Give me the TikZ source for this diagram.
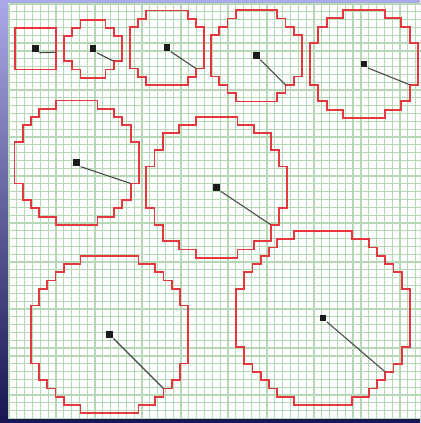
\documentclass[tikz,border=0pt]{standalone}

\tikzset{every picture/.style={line width=0.75pt}}
\tikzset{
pixel circle/.style={draw={rgb, 255:red, 228; green, 56; blue, 62 }, line width=1.35pt, line join=miter},
center dot/.style={fill={rgb, 255:red, 28; green, 28; blue, 28 }, inner sep=0pt, minimum size=5.2pt},
radius line/.style={draw={rgb, 255:red, 72; green, 72; blue, 72 }, line width=0.8pt},
grid line/.style={draw={rgb, 255:red, 182; green, 216; blue, 182 }, line width=0.9pt}}

\begin{document}
\begin{tikzpicture}[x=0.75pt,y=0.75pt,yscale=-1,xscale=1]
\useasboundingbox (0,0) rectangle (420,423);

%Shape: Rectangle [frame]
\fill [top color={rgb, 255:red, 170; green, 170; blue, 232 }, bottom color={rgb, 255:red, 22; green, 22; blue, 82 }] (0,0) rectangle (420,423);
%Shape: Rectangle [panel]
\fill [white] (8,3) rectangle (420,419);
%Shape: Grid
\draw [grid line, shift={(9,4)}, step=7.82] (0,0) grid (411.5,415);

%Shape: Pixel circle r=2
\begin{scope}[shift={(35.5,48.8)}, scale=8.3]
\draw [pixel circle] (-2.5,-2.5) -- (2.5,-2.5) -- (2.5,2.5) -- (-2.5,2.5) -- cycle;
\node [center dot] (c1) at (0,0) {};
\coordinate (e1) at (2.5,0.42);
\draw [radius line] (c1.south east) -- (e1);
\end{scope}

%Shape: Pixel circle r=3
\begin{scope}[shift={(93,48.8)}, scale=8.3]
\draw [pixel circle] (-1.5,-3.5) -- (1.5,-3.5) -- (1.5,-2.5) -- (2.5,-2.5) -- (2.5,-1.5) -- (3.5,-1.5) -- (3.5,1.5) -- (2.5,1.5) -- (2.5,2.5) -- (1.5,2.5) -- (1.5,3.5) -- (-1.5,3.5) -- (-1.5,2.5) -- (-2.5,2.5) -- (-2.5,1.5) -- (-3.5,1.5) -- (-3.5,-1.5) -- (-2.5,-1.5) -- (-2.5,-2.5) -- (-1.5,-2.5) -- cycle;
\node [center dot] (c2) at (0,0) {};
\coordinate (e2) at (2.5,1.5);
\draw [radius line] (c2.south east) -- (e2);
\end{scope}

%Shape: Pixel circle r=4
\begin{scope}[shift={(167,47.8)}, scale=8.3]
\draw [pixel circle] (2.5,-4.5) -- (2.5,-3.5) -- (3.5,-3.5) -- (3.5,-2.5) -- (4.5,-2.5) -- (4.5,2.5) -- (3.5,2.5) -- (3.5,3.5) -- (2.5,3.5) -- (2.5,4.5) -- (-2.5,4.5) -- (-2.5,3.5) -- (-3.5,3.5) -- (-3.5,2.5) -- (-4.5,2.5) -- (-4.5,-2.5) -- (-3.5,-2.5) -- (-3.5,-3.5) -- (-2.5,-3.5) -- (-2.5,-4.5) -- cycle;
\node [center dot] (c3) at (0,0) {};
\coordinate (e3) at (3.5,2.5);
\draw [radius line] (c3.south east) -- (e3);
\end{scope}

%Shape: Pixel circle r=5
\begin{scope}[shift={(256.5,55.8)}, scale=8.3]
\draw [pixel circle] (2.5,-5.5) -- (2.5,-4.5) -- (3.5,-4.5) -- (3.5,-3.5) -- (4.5,-3.5) -- (4.5,-2.5) -- (5.5,-2.5) -- (5.5,2.5) -- (4.5,2.5) -- (4.5,3.5) -- (3.5,3.5) -- (3.5,4.5) -- (2.5,4.5) -- (2.5,5.5) -- (-2.5,5.5) -- (-2.5,4.5) -- (-3.5,4.5) -- (-3.5,3.5) -- (-4.5,3.5) -- (-4.5,2.5) -- (-5.5,2.5) -- (-5.5,-2.5) -- (-4.5,-2.5) -- (-4.5,-3.5) -- (-3.5,-3.5) -- (-3.5,-4.5) -- (-2.5,-4.5) -- (-2.5,-5.5) -- cycle;
\node [center dot] (c4) at (0,0) {};
\coordinate (e4) at (3.5,3.5);
\draw [radius line] (c4.south east) -- (e4);
\end{scope}

%Shape: Pixel circle r=6
\begin{scope}[shift={(364,64)}, scale=8.3]
\draw [pixel circle] (2.5,-6.5) -- (2.5,-5.5) -- (4.5,-5.5) -- (4.5,-4.5) -- (5.5,-4.5) -- (5.5,-2.5) -- (6.5,-2.5) -- (6.5,2.5) -- (5.5,2.5) -- (5.5,4.5) -- (4.5,4.5) -- (4.5,5.5) -- (2.5,5.5) -- (2.5,6.5) -- (-2.5,6.5) -- (-2.5,5.5) -- (-4.5,5.5) -- (-4.5,4.5) -- (-5.5,4.5) -- (-5.5,2.5) -- (-6.5,2.5) -- (-6.5,-2.5) -- (-5.5,-2.5) -- (-5.5,-4.5) -- (-4.5,-4.5) -- (-4.5,-5.5) -- (-2.5,-5.5) -- (-2.5,-6.5) -- cycle;
\node [center dot] (c5) at (0,0) {};
\coordinate (e5) at (5.5,2.5);
\draw [radius line] (c5.south east) -- (e5);
\end{scope}

%Shape: Pixel circle r=7
\begin{scope}[shift={(76.7,162.7)}, scale=8.3]
\draw [pixel circle] (2.5,-7.5) -- (2.5,-6.5) -- (4.5,-6.5) -- (4.5,-5.5) -- (5.5,-5.5) -- (5.5,-4.5) -- (6.5,-4.5) -- (6.5,-2.5) -- (7.5,-2.5) -- (7.5,2.5) -- (6.5,2.5) -- (6.5,4.5) -- (5.5,4.5) -- (5.5,5.5) -- (4.5,5.5) -- (4.5,6.5) -- (2.5,6.5) -- (2.5,7.5) -- (-2.5,7.5) -- (-2.5,6.5) -- (-4.5,6.5) -- (-4.5,5.5) -- (-5.5,5.5) -- (-5.5,4.5) -- (-6.5,4.5) -- (-6.5,2.5) -- (-7.5,2.5) -- (-7.5,-2.5) -- (-6.5,-2.5) -- (-6.5,-4.5) -- (-5.5,-4.5) -- (-5.5,-5.5) -- (-4.5,-5.5) -- (-4.5,-6.5) -- (-2.5,-6.5) -- (-2.5,-7.5) -- cycle;
\node [center dot] (c6) at (0,0) {};
\coordinate (e6) at (6.5,2.5);
\draw [radius line] (c6.south east) -- (e6);
\end{scope}

%Shape: Pixel circle r=8
\begin{scope}[shift={(216.7,187.3)}, scale=8.3]
\draw [pixel circle] (2.5,-8.5) -- (2.5,-7.5) -- (4.5,-7.5) -- (4.5,-6.5) -- (6.5,-6.5) -- (6.5,-4.5) -- (7.5,-4.5) -- (7.5,-2.5) -- (8.5,-2.5) -- (8.5,2.5) -- (7.5,2.5) -- (7.5,4.5) -- (6.5,4.5) -- (6.5,6.5) -- (4.5,6.5) -- (4.5,7.5) -- (2.5,7.5) -- (2.5,8.5) -- (-2.5,8.5) -- (-2.5,7.5) -- (-4.5,7.5) -- (-4.5,6.5) -- (-6.5,6.5) -- (-6.5,4.5) -- (-7.5,4.5) -- (-7.5,2.5) -- (-8.5,2.5) -- (-8.5,-2.5) -- (-7.5,-2.5) -- (-7.5,-4.5) -- (-6.5,-4.5) -- (-6.5,-6.5) -- (-4.5,-6.5) -- (-4.5,-7.5) -- (-2.5,-7.5) -- (-2.5,-8.5) -- cycle;
\node [center dot] (c7) at (0,0) {};
\coordinate (e7) at (6.5,4.5);
\draw [radius line] (c7.south east) -- (e7);
\end{scope}

%Shape: Pixel circle r=9
\begin{scope}[shift={(109.5,334.5)}, scale=8.3]
\draw [pixel circle] (3.5,-9.5) -- (3.5,-8.5) -- (5.5,-8.5) -- (5.5,-7.5) -- (6.5,-7.5) -- (6.5,-6.5) -- (7.5,-6.5) -- (7.5,-5.5) -- (8.5,-5.5) -- (8.5,-3.5) -- (9.5,-3.5) -- (9.5,3.5) -- (8.5,3.5) -- (8.5,5.5) -- (7.5,5.5) -- (7.5,6.5) -- (6.5,6.5) -- (6.5,7.5) -- (5.5,7.5) -- (5.5,8.5) -- (3.5,8.5) -- (3.5,9.5) -- (-3.5,9.5) -- (-3.5,8.5) -- (-5.5,8.5) -- (-5.5,7.5) -- (-6.5,7.5) -- (-6.5,6.5) -- (-7.5,6.5) -- (-7.5,5.5) -- (-8.5,5.5) -- (-8.5,3.5) -- (-9.5,3.5) -- (-9.5,-3.5) -- (-8.5,-3.5) -- (-8.5,-5.5) -- (-7.5,-5.5) -- (-7.5,-6.5) -- (-6.5,-6.5) -- (-6.5,-7.5) -- (-5.5,-7.5) -- (-5.5,-8.5) -- (-3.5,-8.5) -- (-3.5,-9.5) -- cycle;
\node [center dot] (c8) at (0,0) {};
\coordinate (e8) at (6.5,6.5);
\draw [radius line] (c8.south east) -- (e8);
\end{scope}

%Shape: Pixel circle r=10
\begin{scope}[shift={(323,318)}, scale=8.3]
\draw [pixel circle] (3.5,-10.5) -- (3.5,-9.5) -- (5.5,-9.5) -- (5.5,-8.5) -- (6.5,-8.5) -- (6.5,-7.5) -- (7.5,-7.5) -- (7.5,-6.5) -- (8.5,-6.5) -- (8.5,-5.5) -- (9.5,-5.5) -- (9.5,-3.5) -- (10.5,-3.5) -- (10.5,3.5) -- (9.5,3.5) -- (9.5,5.5) -- (8.5,5.5) -- (8.5,6.5) -- (7.5,6.5) -- (7.5,7.5) -- (6.5,7.5) -- (6.5,8.5) -- (5.5,8.5) -- (5.5,9.5) -- (3.5,9.5) -- (3.5,10.5) -- (-3.5,10.5) -- (-3.5,9.5) -- (-5.5,9.5) -- (-5.5,8.5) -- (-6.5,8.5) -- (-6.5,7.5) -- (-7.5,7.5) -- (-7.5,6.5) -- (-8.5,6.5) -- (-8.5,5.5) -- (-9.5,5.5) -- (-9.5,3.5) -- (-10.5,3.5) -- (-10.5,-3.5) -- (-9.5,-3.5) -- (-9.5,-5.5) -- (-8.5,-5.5) -- (-8.5,-6.5) -- (-7.5,-6.5) -- (-7.5,-7.5) -- (-6.5,-7.5) -- (-6.5,-8.5) -- (-5.5,-8.5) -- (-5.5,-9.5) -- (-3.5,-9.5) -- (-3.5,-10.5) -- cycle;
\node [center dot] (c9) at (0,0) {};
\coordinate (e9) at (7.5,6.5);
\draw [radius line] (c9.south east) -- (e9);
\end{scope}

\end{tikzpicture}
\end{document}
